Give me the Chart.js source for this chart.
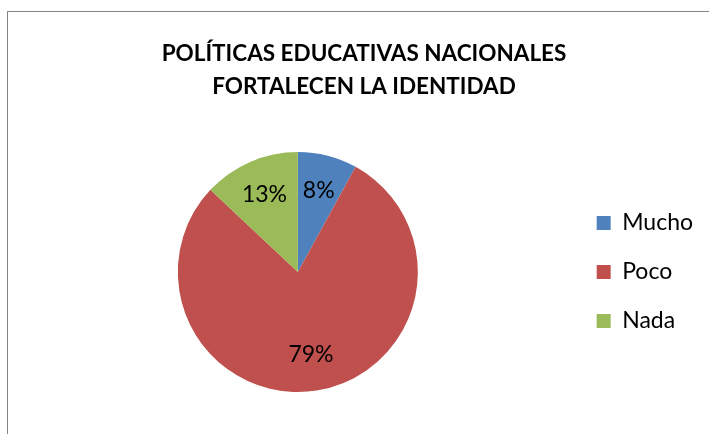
<!DOCTYPE html>
<html>
<head>
<meta charset="utf-8">
<script src="https://cdn.jsdelivr.net/npm/chart.js@4/dist/chart.umd.min.js"></script>
<style>
    html, body { margin: 0; padding: 0; background: #fff; }
    #wrap { position: relative; width: 709px; height: 434px; overflow: hidden; }
    #frame { position: absolute; left: 7px; top: 11px; width: 720px; height: 440px;
        border-left: 1.5px solid #868686; border-top: 1.5px solid #868686; }
    #chart { position: absolute; left: 0; top: 0; }
</style>
</head>
<body>
<div id="wrap">
    <div id="frame"></div>
    <canvas id="chart" width="709" height="434"></canvas>
</div>
<script>
const titleLines = ['POLÍTICAS EDUCATIVAS NACIONALES', 'FORTALECEN LA IDENTIDAD']
const categories = ['Mucho', 'Poco', 'Nada']
const values = [8, 79, 13]
const colors = ['#4F81BD', '#C0504D', '#9BBB59']

// percent labels inside the slices
const sliceLabels = {
    id: 'sliceLabels',
    afterDatasetsDraw(chart) {
        const ctx = chart.ctx
        const meta = chart.getDatasetMeta(0)
        const total = values.reduce((a, b) => a + b, 0)
        ctx.save()
        ctx.font = '23px Lato'
        ctx.fillStyle = '#000'
        ctx.textAlign = 'center'
        ctx.textBaseline = 'middle'
        meta.data.forEach((arc, i) => {
            const p = arc.getProps(['x', 'y', 'startAngle', 'endAngle', 'outerRadius'], true)
            const mid = (p.startAngle + p.endAngle) / 2
            const r = p.outerRadius * 0.7
            const pct = Math.round(values[i] / total * 100) + '%'
            ctx.fillText(pct, p.x + Math.cos(mid) * r, p.y + Math.sin(mid) * r)
        })
        ctx.restore()
    }
}

new Chart(document.getElementById('chart'), {
    type: 'pie',
    data: {
        labels: categories,
        datasets: [{
            data: values,
            backgroundColor: colors,
            borderWidth: 0,
            hoverOffset: 0
        }]
    },
    options: {
        responsive: false,
        animation: false,
        layout: {
            padding: {left: 25, right: 6, top: 0, bottom: 42}
        },
        plugins: {
            title: {
                display: true,
                text: titleLines,
                color: '#000',
                font: {family: 'Lato', size: 22.5, weight: 'bold', lineHeight: 1.467},
                padding: {top: 37.5, bottom: 48.5}
            },
            legend: {
                position: 'right',
                fullSize: false,
                labels: {
                    color: '#000',
                    font: {family: 'Lato', size: 23},
                    boxWidth: 14,
                    boxHeight: 14,
                    padding: 26
                }
            },
            tooltip: {enabled: false}
        }
    },
    plugins: [sliceLabels]
})
</script>
</body>
</html>
